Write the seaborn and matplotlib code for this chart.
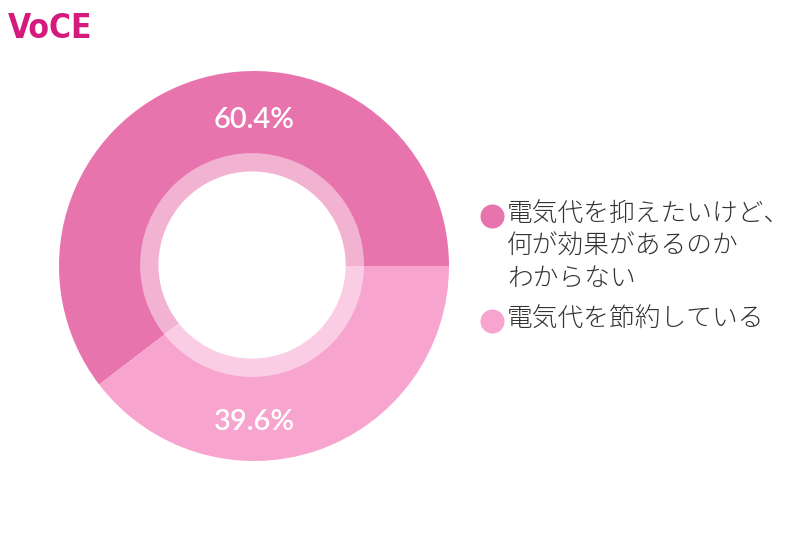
import numpy as np
import seaborn as sns
import matplotlib.pyplot as plt
from matplotlib.patches import Circle

# data
labels = ["電気代を抑えたいけど、\n何が効果があるのか\nわからない", "電気代を節約している"]
values = [60.4, 39.6]
colors = ["#e874ae", "#f7a5cf"]

sns.set_theme(style="white")
plt.rcParams['font.family'] = ['Noto Sans CJK JP', 'DejaVu Sans']

fig = plt.figure(figsize=(8, 5.33), dpi=100)
fig.patch.set_facecolor("white")

# donut: centre (254, 266) px, radius 195 px
ax = fig.add_axes([59 / 800, (533 - 461) / 533, 390 / 800, 390 / 533])
start = 360 * values[0] / sum(values)
ax.pie(values, colors=colors, startangle=start, counterclock=False, radius=1,
       wedgeprops=dict(linewidth=0))
ax.add_patch(Circle((-0.01, 0.005), 0.574, facecolor="white", alpha=0.45, lw=0))
ax.add_patch(Circle((-0.01, 0.005), 0.48, facecolor="white", lw=0))
ax.set_xlim(-1, 1)
ax.set_ylim(-1, 1)
ax.set_aspect("equal")
ax.axis("off")

pct_font = dict(color="white", fontsize=21, fontweight="semibold",
                family=["Lato", "DejaVu Sans"], ha="center", va="center")
ax.text(0, 0.75, f"{values[0]:.1f}%", **pct_font)
ax.text(0, -0.8, f"{values[1]:.1f}%", **pct_font)

# legend drawn by hand so the marker sits on the first line
ov = fig.add_axes([0, 0, 1, 1])
ov.set_xlim(0, 800)
ov.set_ylim(533, 0)
ov.axis("off")
leg_y = [216, 321]
for lab, col, y in zip(labels, colors, leg_y):
    ov.scatter([492], [y], s=300, color=col, linewidths=0)
    ov.text(507, y - 15, lab, fontsize=18.5, color="#333333", ha="left", va="top",
            fontweight="light", linespacing=1.3)

# logo
fig.text(8 / 800, 1 - 38 / 533, "VoCE", color="#d41a7c", fontsize=24, fontweight="bold",
         family="DejaVu Sans", fontstretch="condensed", ha="left", va="baseline")

fig.savefig("out.png", dpi=100)
